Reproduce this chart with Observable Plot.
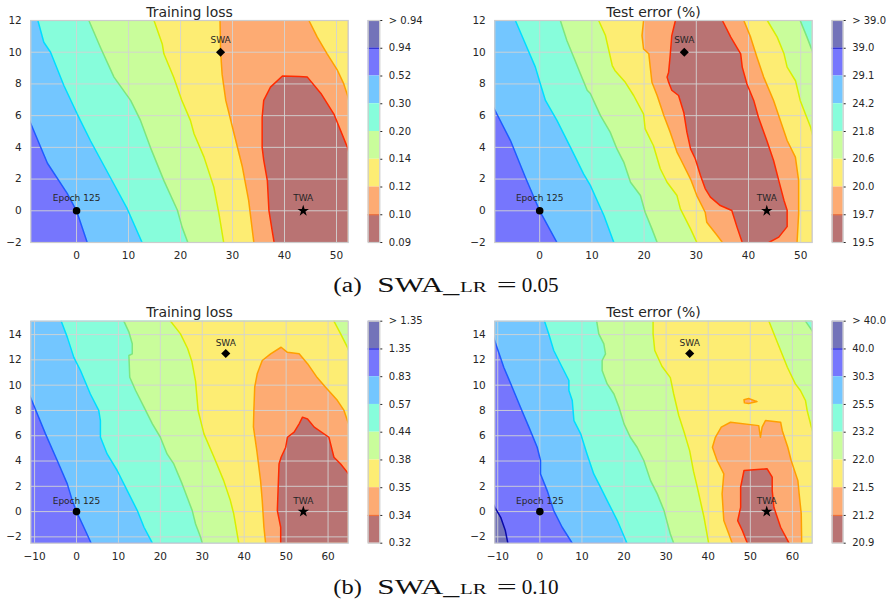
<!DOCTYPE html>
<html><head><meta charset="utf-8">
<script src="https://cdn.jsdelivr.net/npm/d3@7"></script>
<script src="https://cdn.jsdelivr.net/npm/@observablehq/plot@0.6"></script>
<style>
body{margin:0;background:#fff;}
#root{position:relative;width:891px;height:600px;overflow:hidden;font-family:"DejaVu Sans";}
#root svg{position:absolute;overflow:visible;}
</style></head><body><div id="root"></div>
<script>
// ---------- shared colours (band 0 = highest values ... band 7 = lowest) ----------
const bandColors = ["#7373b9","#7676fd","#73c6ff","#87fddb","#c9fd9b","#fded73","#fdab73","#b97373"];
const lineColors = ["#0a0aa8","#1f5cff","#00ddff","#7ee67e","#d8ef00","#ff9f00","#ff2a00"];

// ---------- marker labels ----------
const markNames = ["Epoch 125","SWA","TWA"];

// ---------- (a) Training loss ----------
const lossA_cbLabels = ["0.09","0.10","0.12","0.14","0.20","0.30","0.52","0.94","> 0.94"];
const lossA_xTicks = [0,10,20,30,40,50];
const lossA_yTicks = [-2,0,2,4,6,8,10,12];
const lossA_markX = [0,27.7,43.6];
const lossA_markY = [0,10,0];
const lossA_b1 = [[-12,8.0],[-8.65,5.38],[-5.6,3.0],[-1.8,1.1],[0,0],[2.05,-2]];
const lossA_b2 = [[-7.44,12],[-6.3,10.63],[-5,10],[-2.44,7.9],[0.13,6.1],[2.7,4.4],[6.5,2.1],[9.74,0.13],[12.6,-2]];
const lossA_b3 = [[2.37,12],[4.6,10.3],[7.2,8.43],[10.4,6.96],[12.3,5.7],[14.2,4.0],[16.8,1.9],[19.4,0.03],[20.3,-1.03],[21.4,-2]];
const lossA_b4 = [[14.9,12],[16.5,10.5],[16.8,9.9],[18.7,8.4],[20.2,7.0],[21.9,5.7],[22.6,4.86],[24.5,3.4],[26.4,1.5],[27.4,-0.2],[28.3,-2]];
const lossA_b5 = [[27.6,12],[27.7,10.1],[28.0,8.6],[28.7,6.96],[30.3,4.86],[31.9,2.76],[33.1,0.66],[34.1,-2]];
const lossA_r5 = [[44.7,12],[46.3,10.95],[48.2,9.9],[50.2,8.85],[51.4,8.0],[52.2,7.2],[53.5,5],[54,3]];
const lossA_brown = [[38.2,-3],[38,-2],[37.6,-1.2],[37.0,0.03],[36.7,1.9],[36.0,3.2],[35.7,4.0],[35.7,5.9],[36.0,6.96],[37.3,7.8],[39.6,8.5],[42.8,8.47],[44.4,8.43],[47,7.4],[49.5,6.1],[52.1,4.0],[53.5,2.5],[54,-3]];

// ---------- (a) Test error ----------
const errA_cbLabels = ["19.5","19.7","20.0","20.6","21.8","24.2","29.1","39.0","> 39.0"];
const errA_xTicks = [0,10,20,30,40,50];
const errA_yTicks = [-2,0,2,4,6,8,10,12];
const errA_markX = [0,27.7,43.5];
const errA_markY = [0,10,0];
const errA_c1 = [[-12,8.54],[-8.62,6.37],[-5.6,4.43],[-2.75,2.12],[0,0],[3.3,-2]];
const errA_c2 = [[-4.66,12],[-2.75,10.53],[-0.83,9.06],[0.13,8.0],[1.1,6.96],[3.3,5.7],[5.9,4.0],[8.4,2.33],[9.7,1.6],[11.0,0.65],[12.3,-0.3],[14.2,-2]];
const errA_c3 = [[3.96,12],[5.2,10.74],[6.5,9.7],[7.8,8.64],[9.1,7.6],[9.7,7.4],[11.65,6.0],[13.5,4.96],[14.8,3.9],[16.1,3.07],[17.4,1.8],[19.3,0.96],[20.2,-0.09],[21.5,-1.14],[22.5,-2]];
const errA_c4 = [[11.3,12],[12.6,11.05],[13.9,9.16],[14.4,8.85],[16.4,8.1],[18.0,7.27],[19.9,6.1],[20.2,5.17],[21.8,4.1],[23.1,2.65],[24.4,1.8],[26.3,0.96],[26.95,0.12],[28.9,-1.14],[30.1,-2]];
const errA_c5 = [[19.9,12],[19.6,11.05],[19.9,10.2],[20.9,9.9],[21.5,8.1],[22.5,7.27],[23.8,6.0],[25.0,4.96],[26.3,3.7],[26.95,3.28],[28.9,2.0],[30.1,0.96],[31.7,-0.09],[32.0,-0.72],[34.0,-1.56],[35.0,-2]];
const errA_r5 = [[39.1,12],[40.4,10.95],[41.6,9.7],[42.9,8.43],[44.8,6.96],[46.1,5.7],[47.4,4.43],[48.98,3.38],[49.6,1.9],[49.6,-0.2],[49.3,-2]];
const errA_r4 = [[43.6,12],[45.5,10.95],[46.8,9.9],[47.4,9.06],[49.0,8.2],[49.9,6.96],[50.9,6.1],[51.9,5.27],[52.2,4.85],[53.5,3.5],[54,-3]];
const errA_r3 = [[49.9,12],[51.2,10.95],[52.2,10.1],[54,8]];
const errA_brownL = [[26.0,12],[25.3,11.05],[25.0,9.8],[24.7,8.74],[24.4,8.43],[24.7,8.1],[25.3,7.6],[26.6,7.27],[27.6,6.2],[28.2,4.96],[28.9,3.9],[29.8,3.28],[30.8,2.23],[31.7,1.4],[32.7,0.86],[34.6,0.33],[36.8,0.02],[37.8,-1.03],[38.8,-2]];
const errA_brownR = [[35.0,12],[36.6,10.95],[38.5,9.9],[38.8,9.06],[39.7,8.0],[41.0,6.96],[41.9,5.9],[43.5,4.43],[44.8,3.17],[45.8,1.9],[46.8,0.65],[47.4,0.03],[47.4,-1.0],[45.8,-1.66],[43.9,-2]];

// ---------- (b) Training loss ----------
const lossB_cbLabels = ["0.32","0.34","0.35","0.38","0.44","0.57","0.83","1.35","> 1.35"];
const lossB_xTicks = [-10,0,10,20,30,40,50,60];
const lossB_yTicks = [-2,0,2,4,6,8,10,12,14];
const lossB_markX = [0,35.6,54.1];
const lossB_markY = [0,12.5,0];
const lossB_d1 = [[-13,10.66],[-10.74,8.84],[-7.4,6.15],[-4.6,4.04],[-2.2,2.19],[-1.0,0.87],[0,0],[1.75,-1.24],[3.5,-2.5]];
const lossB_d2 = [[-3.66,15.07],[-2.2,13.8],[-0.64,12.2],[0.95,11.16],[3.3,9.3],[5.3,8.0],[5.7,7.2],[5.7,5.9],[7.3,4.56],[9.7,3.25],[12.1,1.66],[14.5,0.08],[16.1,-1.24],[18.1,-2.5]];
const lossB_d3 = [[11.3,15.07],[12.5,14.2],[13.3,13.27],[13.3,12.48],[12.5,12.35],[12.7,10.63],[14.1,9.58],[16.1,8.26],[18.1,6.94],[20.0,5.88],[21.6,4.56],[23.2,3.77],[25.2,2.19],[27.6,0.08],[28.4,-0.98],[29.6,-2.03],[30.0,-2.5]];
const lossB_d4 = [[22.4,15.07],[24.8,14.06],[26.5,12.9],[27.5,11.9],[28.4,10.3],[29.0,8.0],[30.4,6.15],[32.8,4.3],[35.1,2.45],[36.7,0.87],[37.5,-0.18],[38.7,-2.5]];
const lossB_r4 = [[61.4,15.07],[63.0,14.06],[64.6,13.0],[67,11]];
const lossB_orange = [[45.1,-3.5],[45.1,-2.5],[44.7,-1.24],[44.3,0.87],[43.9,2.45],[43.0,4.83],[42.2,6.7],[42.3,8.0],[42.5,9.84],[43.1,10.9],[44.3,11.95],[46.3,12.48],[48.8,13.0],[50.3,12.6],[53.1,12.48],[55.1,11.7],[57.4,10.6],[59.4,9.84],[62.2,8.8],[63.8,8.0],[64.6,7.2],[67,5],[67,-3.5]];
const lossB_brown = [[48.7,-3.5],[48.7,-2.5],[48.7,-1.24],[47.9,0.08],[48.1,1.93],[48.3,3.77],[48.8,4.3],[49.9,5.09],[50.3,5.88],[51.9,6.28],[53.1,6.94],[53.9,7.47],[55.1,7.33],[56.7,6.68],[60.2,5.88],[60.6,5.36],[61.4,4.3],[63.0,3.77],[64.6,3.1],[67,2],[67,-3.5]];

// ---------- (b) Test error ----------
const errB_cbLabels = ["20.9","21.2","21.5","22.0","23.2","25.5","30.3","40.0","> 40.0"];
const errB_xTicks = [-10,0,10,20,30,40,50,60];
const errB_yTicks = [-2,0,2,4,6,8,10,12,14];
const errB_markX = [0,35.6,53.9];
const errB_markY = [0,12.5,0];
const errB_e0 = [[-13,2],[-10.7,0.34],[-9.3,-0.45],[-8.2,-1.5],[-7.6,-2.5],[-7.5,-3.5],[-13,-3.5]];
const errB_e1 = [[-12.5,15.3],[-10.7,13.5],[-8.55,11.4],[-6.57,9.84],[-4.6,8.26],[-2.6,6.68],[-0.63,5.09],[0.16,4.04],[0.16,2.98],[1.74,1.66],[3.3,0.08],[5.3,-1.24],[7.7,-2.5]];
const errB_e2 = [[1.1,15.07],[2.1,14.06],[3.3,12.74],[5.3,11.42],[6.9,10.37],[6.9,9.58],[7.7,8.79],[8.1,7.2],[9.7,6.15],[11.2,4.56],[12.8,2.98],[14.4,1.93],[16.0,0.87],[18.4,-0.71],[20.7,-2.5]];
const errB_e3 = [[13.5,15.07],[14.0,14.06],[15.2,13.27],[15.6,12.48],[14.8,11.95],[14.8,11.16],[16.0,10.1],[17.6,9.3],[18.8,8.26],[20.0,6.94],[21.5,5.88],[23.1,5.09],[24.7,4.04],[26.3,2.45],[27.9,1.4],[29.5,0.08],[31.0,-1.77],[31.8,-2.5]];
const errB_e4 = [[26.9,15.07],[26.9,14.06],[27.3,12.74],[29.0,11.5],[31.0,10.6],[31.8,9.3],[33.0,7.6],[34.4,6.15],[35.6,4.8],[36.5,3.2],[37.4,1.93],[39.0,-0.45],[40.1,-2.5]];
const errB_r4 = [[54.4,15.07],[55.6,14.06],[57.2,12.74],[58.8,11.42],[60.7,10.1],[61.9,9.58],[63.1,8.79],[63.5,8.0],[64.5,6.68],[67,4]];
const errB_r3 = [[63.1,15.07],[64.7,14.3],[67,12.5]];
const errB_orange = [[45.7,-3.5],[45.7,-2.5],[44.9,-1.77],[43.7,-0.71],[43.3,1.4],[43.7,2.98],[42.1,4.04],[41.0,5.09],[41.7,5.88],[43.1,6.68],[45.3,7.07],[52.0,6.8],[52.4,5.88],[52.8,6.68],[53.6,7.2],[57.2,7.07],[57.6,6.4],[58.9,5.09],[59.7,4.04],[61.3,2.45],[61.6,1.4],[62.1,-0.18],[62.2,-2.5],[62.2,-3.5]];
const errB_sliver = [[48.5,8.85],[49.6,8.95],[51.6,8.7],[49.6,8.55],[48.6,8.6],[48.5,8.85]];
const errB_brown = [[49.3,-3.5],[49.3,-2.5],[48.1,-1.5],[47.0,-0.71],[47.7,0.34],[47.7,1.93],[48.5,3.25],[54.0,3.38],[55.2,2.72],[55.2,1.66],[55.6,0.34],[57.2,-1.24],[59.2,-2.5],[59.2,-3.5]];

// ---------- captions ----------
const capLabels = ["(a)","(b)"];
const capName = "SWA";
const capLR = "LR";
const capValues = ["0.05","0.10"];

// ---------- helpers that turn boundaries into filled regions ----------
const BIG = 1000;
function rightOf(b){const f=b[0],l=b[b.length-1];return [[f[0],BIG],...b,[l[0],-BIG],[BIG,-BIG],[BIG,BIG]];}
function between(L,R){return [[L[0][0],BIG],...L,[L[L.length-1][0],-BIG],[R[R.length-1][0],-BIG],...R.slice().reverse(),[R[0][0],BIG]];}
function markers(xs,ys){return markNames.map((n,i)=>({name:n,x:xs[i],y:ys[i]}));}

const root = document.getElementById("root");
const FONT = "DejaVu Sans";
const INK = "#262626";

function drawPanel(c){
  const X = d=>d[0], Y = d=>d[1];
  const marks = [Plot.frame({fill: bandColors[c.base], stroke: "none"})];
  for (const f of c.fills) marks.push(Plot.line(f.poly,{x:X,y:Y,fill:bandColors[f.band],stroke:"none",clip:true}));
  marks.push(Plot.gridX(c.xTicks,{stroke:"#d3d3d3",strokeOpacity:0.9,strokeWidth:1}));
  marks.push(Plot.gridY(c.yTicks,{stroke:"#d3d3d3",strokeOpacity:0.9,strokeWidth:1}));
  for (const l of c.lines) marks.push(Plot.line(l.pts,{x:X,y:Y,stroke:lineColors[l.k],strokeWidth:1.5,clip:true}));
  marks.push(Plot.frame({stroke:"#cccccc",strokeWidth:1.2}));
  marks.push(Plot.axisX(c.xTicks,{tickSize:0,tickPadding:9,fontSize:10.5,label:null}));
  marks.push(Plot.axisY(c.yTicks,{tickSize:0,tickPadding:9,fontSize:10.5,label:null}));
  marks.push(Plot.text([c.title],{frameAnchor:"top",dy:c.titleDy,lineAnchor:"bottom",fontSize:14,fill:INK}));
  const m = c.markers;
  marks.push(Plot.dot(m.filter(d=>d.name==="Epoch 125"),{x:"x",y:"y",r:3.8,fill:"black",symbol:"circle"}));
  marks.push(Plot.dot(m.filter(d=>d.name==="SWA"),{x:"x",y:"y",r:4.1,fill:"black",symbol:"diamond2"}));
  marks.push(Plot.dot(m.filter(d=>d.name==="TWA"),{x:"x",y:"y",r:3.6,fill:"black",symbol:"star"}));
  marks.push(Plot.text(m,{x:"x",y:"y",text:"name",dy:c.labelDy,lineAnchor:"bottom",fontSize:9,fill:INK}));
  const svg = Plot.plot({
    width:c.width,height:c.height,
    marginLeft:c.ml,marginRight:c.mr,marginTop:c.mt,marginBottom:c.mb,
    x:{domain:c.xDomain},y:{domain:c.yDomain},
    style:{fontFamily:FONT,color:INK,background:"none",overflow:"visible"},
    marks
  });
  svg.style.left=c.left+"px"; svg.style.top=c.top+"px";
  root.appendChild(svg);

  // colour bar
  const cells = bandColors.map((col,i)=>({i,col}));
  const cb = Plot.plot({
    width:70,height:c.height,
    marginLeft:7.7,marginRight:70-7.7-c.cbw,marginTop:c.mt,marginBottom:c.mb,
    x:{domain:[0,1],axis:null},y:{domain:[0,8]},
    style:{fontFamily:FONT,color:INK,background:"none",overflow:"visible"},
    marks:[
      Plot.rect(cells,{x1:0,x2:1,y1:d=>7-d.i,y2:d=>8-d.i,fill:"col"}),
      Plot.ruleY([7],{stroke:"#2a2ad0",strokeWidth:1.2}),
      Plot.ruleY([1],{stroke:"#f07038",strokeWidth:1.2}),
      Plot.frame({stroke:"#cccccc",strokeWidth:1.2}),
      Plot.axisY(d3.range(9),{anchor:"right",tickSize:2,tickPadding:7,fontSize:10,label:null,tickFormat:i=>c.cbLabels[i]})
    ]
  });
  cb.style.left=c.cbLeft+"px"; cb.style.top=c.top+"px";
  root.appendChild(cb);
}

// (a) training loss
drawPanel({
  left:0,top:0,width:350,height:262,ml:30.3,mr:2.3,mt:20,mb:20,
  xDomain:[-8.8,52.25],yDomain:[-2,12],xTicks:lossA_xTicks,yTicks:lossA_yTicks,
  title:"Training loss",titleDy:-3.3,labelDy:-9.3,base:1,
  fills:[
    {band:2,poly:rightOf(lossA_b1)},{band:3,poly:rightOf(lossA_b2)},{band:4,poly:rightOf(lossA_b3)},
    {band:5,poly:rightOf(lossA_b4)},{band:6,poly:rightOf(lossA_b5)},{band:5,poly:rightOf(lossA_r5)},
    {band:7,poly:lossA_brown}
  ],
  lines:[{pts:lossA_b1,k:1},{pts:lossA_b2,k:2},{pts:lossA_b3,k:3},{pts:lossA_b4,k:4},{pts:lossA_b5,k:5},{pts:lossA_r5,k:5},{pts:lossA_brown,k:6}],
  markers:markers(lossA_markX,lossA_markY),
  cbLeft:360,cbw:11.6,cbLabels:lossA_cbLabels
});
// (a) test error
drawPanel({
  left:464,top:0,width:350,height:262,ml:30.3,mr:2.3,mt:20,mb:20,
  xDomain:[-8.6,52.2],yDomain:[-2,12],xTicks:errA_xTicks,yTicks:errA_yTicks,
  title:"Test error (%)",titleDy:-3.3,labelDy:-9.3,base:1,
  fills:[
    {band:2,poly:rightOf(errA_c1)},{band:3,poly:rightOf(errA_c2)},{band:4,poly:rightOf(errA_c3)},
    {band:5,poly:rightOf(errA_c4)},{band:6,poly:rightOf(errA_c5)},{band:5,poly:rightOf(errA_r5)},
    {band:4,poly:rightOf(errA_r4)},{band:3,poly:rightOf(errA_r3)},{band:7,poly:between(errA_brownL,errA_brownR)}
  ],
  lines:[{pts:errA_c1,k:1},{pts:errA_c2,k:2},{pts:errA_c3,k:3},{pts:errA_c4,k:4},{pts:errA_c5,k:5},
         {pts:errA_r5,k:5},{pts:errA_r4,k:4},{pts:errA_r3,k:3},{pts:errA_brownL,k:6},{pts:errA_brownR,k:6}],
  markers:markers(errA_markX,errA_markY),
  cbLeft:824,cbw:11,cbLabels:errA_cbLabels
});
// (b) training loss
drawPanel({
  left:0,top:300,width:350,height:263,ml:30.3,mr:2.3,mt:20.7,mb:20.3,
  xDomain:[-10.9,64.8],yDomain:[-2.5,15.06],xTicks:lossB_xTicks,yTicks:lossB_yTicks,
  title:"Training loss",titleDy:-4,labelDy:-7.3,base:1,
  fills:[
    {band:2,poly:rightOf(lossB_d1)},{band:3,poly:rightOf(lossB_d2)},{band:4,poly:rightOf(lossB_d3)},
    {band:5,poly:rightOf(lossB_d4)},{band:4,poly:rightOf(lossB_r4)},{band:6,poly:lossB_orange},{band:7,poly:lossB_brown}
  ],
  lines:[{pts:lossB_d1,k:1},{pts:lossB_d2,k:2},{pts:lossB_d3,k:3},{pts:lossB_d4,k:4},{pts:lossB_r4,k:4},{pts:lossB_orange,k:5},{pts:lossB_brown,k:6}],
  markers:markers(lossB_markX,lossB_markY),
  cbLeft:360,cbw:11.6,cbLabels:lossB_cbLabels
});
// (b) test error
drawPanel({
  left:464,top:300,width:350,height:263,ml:30.3,mr:2.3,mt:20.7,mb:20.3,
  xDomain:[-10.7,64.7],yDomain:[-2.5,15.06],xTicks:errB_xTicks,yTicks:errB_yTicks,
  title:"Test error (%)",titleDy:-4,labelDy:-7.3,base:1,
  fills:[
    {band:0,poly:errB_e0},
    {band:2,poly:rightOf(errB_e1)},{band:3,poly:rightOf(errB_e2)},{band:4,poly:rightOf(errB_e3)},
    {band:5,poly:rightOf(errB_e4)},{band:4,poly:rightOf(errB_r4)},{band:3,poly:rightOf(errB_r3)},
    {band:6,poly:errB_orange},{band:6,poly:errB_sliver},{band:7,poly:errB_brown}
  ],
  lines:[{pts:errB_e0,k:0},{pts:errB_e1,k:1},{pts:errB_e2,k:2},{pts:errB_e3,k:3},{pts:errB_e4,k:4},
         {pts:errB_r4,k:4},{pts:errB_r3,k:3},{pts:errB_orange,k:5},{pts:errB_sliver,k:5},{pts:errB_brown,k:6}],
  markers:markers(errB_markX,errB_markY),
  cbLeft:824,cbw:11,cbLabels:errB_cbLabels
});

// ---------- captions ----------
const cap = d3.select(root).append("svg").attr("width",891).attr("height",600).style("left","0px").style("top","0px")
  .style("font-family","'Liberation Serif'").style("fill","#111");
[[capLabels[0],capValues[0],292.3],[capLabels[1],capValues[1],594.3]].forEach(([lab,val,base])=>{
  const g = cap.append("g");
  const piece=(t,x,w,size)=>g.append("text").attr("x",x).attr("y",base).attr("font-size",size)
      .attr("textLength",w).attr("lengthAdjust","spacingAndGlyphs").text(t);
  piece(lab,333.3,28.5,20);
  piece(capName,377.3,66,20.5);
  piece("_",443.3,16,20);
  piece(capLR,460,26.7,15);
  piece("=",496.7,20,20);
  piece(val,521.7,37,20.5);
});
</script></body></html>
